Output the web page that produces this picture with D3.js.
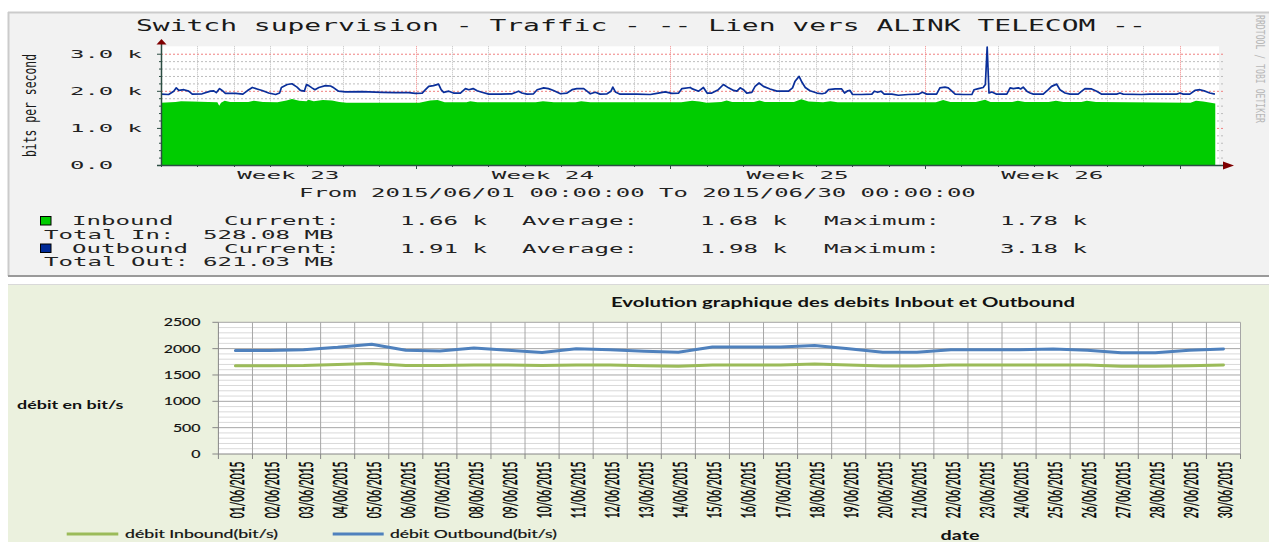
<!DOCTYPE html>
<html><head><meta charset="utf-8">
<script src="https://cdn.jsdelivr.net/npm/d3@7"></script>
<style>body{margin:0;background:#fff}svg{display:block}</style>
</head><body>
<svg id="c" width="1269" height="542"></svg>
<script>
// ---------- Top panel (RRDtool) data ----------
const rrdTitle = "Switch supervision - Traffic - -- Lien vers ALINK TELECOM --";
const rrdYTicks = [0, 1000, 2000, 3000];
const rrdYTickLabels = ["0.0", "1.0 k", "2.0 k", "3.0 k"];
const rrdWeekLabels = ["Week 23", "Week 24", "Week 25", "Week 26"];
const rrdWeekCenters = [4.5, 11.5, 18.5, 25.5];
const rrdWeekStarts = [8, 15, 22, 29];
const rrdRange = "From 2015/06/01 00:00:00 To 2015/06/30 00:00:00";
// Outbound (bits/s), day of June (fractional)
const rrdOutDay = [1.00,1.21,1.35,1.42,1.49,1.63,1.76,1.86,2.13,2.36,
2.45,2.52,2.61,2.68,2.77,3.05,3.25,3.37,3.51,3.64,
3.78,3.96,4.15,4.26,4.31,4.47,4.60,4.74,4.83,4.94,
5.00,5.06,5.15,5.23,5.34,5.52,5.66,5.75,5.88,6.07,
6.53,7.08,7.44,7.81,7.99,8.18,8.27,8.36,8.49,8.63,
8.70,8.77,8.91,9.04,9.23,9.37,9.46,9.58,9.69,9.82,
10.01,10.33,10.65,10.83,10.92,11.06,11.24,11.34,11.52,11.65,
11.79,11.98,12.16,12.30,12.43,12.62,12.71,12.80,12.94,13.07,
13.26,13.37,13.42,13.49,13.62,14.08,14.45,14.63,14.86,15.04,
15.23,15.32,15.55,15.59,15.78,15.91,16.01,16.14,16.32,16.46,
16.60,16.74,16.83,16.92,17.01,17.10,17.24,17.33,17.44,17.56,
17.74,17.93,18.25,18.36,18.43,18.54,18.62,18.71,18.84,19.03,
19.17,19.26,19.35,19.53,19.71,19.79,19.88,19.94,20.01,20.26,
20.54,20.61,20.70,20.79,20.88,21.09,21.27,21.54,21.82,21.93,
22.05,22.32,22.41,22.55,22.64,22.74,22.83,23.05,23.29,23.35,
23.47,23.60,23.66,23.71,23.76,23.84,23.97,24.25,24.34,24.43,
24.57,24.63,24.70,24.80,24.89,24.98,25.25,25.39,25.48,25.62,
25.71,25.85,25.99,26.21,26.31,26.40,26.58,26.72,26.86,27.27,
27.36,27.45,27.96,28.18,28.92,29.01,29.10,29.28,29.42,29.56,
29.70,29.83,29.97];
const rrdOutVal = [1910,1900,1990,2080,2010,2030,1990,1910,1920,1990,
2000,1950,2060,2010,1930,1930,1910,2000,2090,2050,
2010,1940,1900,1940,2090,2170,2190,2100,2010,1990,
2170,2140,2080,2030,2090,2140,2130,2080,1990,1970,
1980,1960,1950,1950,1930,1940,2030,2120,2140,2180,
2030,1960,1990,1940,1940,2060,2030,2060,2000,1960,
1910,1910,1920,1990,1940,1910,1920,2030,2080,2060,
2010,1920,1940,2030,2060,2060,1990,1920,1960,1910,
1920,1990,2100,1970,1910,1910,1900,1930,1970,1930,
1940,2060,2090,2060,1990,2090,1940,1940,2030,2170,
2080,2010,1990,2080,2030,1940,1960,2120,2210,2120,
2050,1990,1990,2080,2260,2390,2230,2090,2000,1940,
1920,1940,2030,2050,2050,1940,2000,2010,1900,1900,
1910,1990,1960,1990,1910,1910,1880,1900,1910,1960,
1910,1910,2080,2100,2080,1990,1910,1900,1900,2030,
2060,2090,2170,3180,1940,1970,1910,1910,2080,2060,
2080,2050,2100,1990,1940,1910,1910,2030,2120,2180,
2030,1940,1910,1910,1990,2060,2050,1990,1910,1910,
1940,1910,1900,1910,1910,1940,1910,1910,2010,2030,
1990,1940,1910];
// Inbound (bits/s)
const rrdInDay = [1.00,1.40,1.55,1.85,2.30,2.55,2.60,2.65,2.75,2.90,3.40,3.55,3.80,4.20,4.45,4.60,4.80,5.00,5.05,5.20,
5.45,5.70,5.90,6.10,8.10,8.40,8.60,8.80,9.40,9.50,9.70,11.30,11.50,11.80,12.40,12.55,12.80,15.30,15.60,15.80,
16.00,16.40,16.55,16.70,17.30,17.45,17.60,18.40,18.60,18.80,19.20,19.40,19.60,22.30,22.50,22.70,23.40,23.65,23.80,24.40,
24.55,24.75,25.40,25.60,25.80,26.30,26.45,26.70,29.30,29.45,29.65,29.98];
const rrdInVal = [1680,1700,1720,1710,1700,1690,1600,1680,1730,1700,1700,1730,1700,1690,1740,1780,1730,1720,1760,1720,
1750,1740,1700,1680,1680,1740,1750,1690,1690,1720,1690,1690,1720,1690,1690,1720,1690,1690,1730,1710,
1680,1700,1740,1700,1700,1740,1700,1700,1770,1710,1690,1720,1690,1690,1750,1700,1700,1760,1700,1700,
1730,1700,1700,1730,1700,1700,1730,1700,1680,1730,1710,1660];
const rrdLegendIn = ["Inbound", "Current:", "1.66 k", "Average:", "1.68 k", "Maximum:", "1.78 k"];
const rrdLegendOut = ["Outbound", "Current:", "1.91 k", "Average:", "1.98 k", "Maximum:", "3.18 k"];
const rrdTotals = [["Total In:", "528.08 MB"], ["Total Out:", "621.03 MB"]];

// ---------- Bottom panel (Excel) data ----------
const xlTitle = "Evolution graphique des debits Inbout et Outbound";
const xlDates = ["01/06/2015","02/06/2015","03/06/2015","04/06/2015","05/06/2015","06/06/2015","07/06/2015","08/06/2015","09/06/2015","10/06/2015",
"11/06/2015","12/06/2015","13/06/2015","14/06/2015","15/06/2015","16/06/2015","17/06/2015","18/06/2015","19/06/2015","20/06/2015",
"21/06/2015","22/06/2015","23/06/2015","24/06/2015","25/06/2015","26/06/2015","27/06/2015","28/06/2015","29/06/2015","30/06/2015"];
const xlInbound = [1675,1675,1680,1700,1720,1680,1680,1690,1690,1680,1690,1690,1675,1665,1690,1690,1690,1710,1690,1670,1670,1690,1690,1690,1690,1690,1665,1665,1675,1690];
const xlOutbound = [1965,1965,1980,2025,2085,1970,1955,2010,1970,1925,2000,1980,1950,1930,2030,2030,2030,2060,2000,1930,1930,1980,1980,1980,1995,1970,1920,1920,1970,1995];
const xlYTicks = [0, 500, 1000, 1500, 2000, 2500];
const xlSeriesNames = ["débit Inbound(bit/s)", "débit Outbound(bit/s)"];
const xlYTitle = "débit en bit/s";
const xlXTitle = "date";

// ---------- helpers ----------
const svg = d3.select("#c");
function txt(g, s, o) {
  const t = g.append("text").text(s)
    .attr("x", o.x || 0).attr("y", o.y || 0)
    .attr("font-family", o.ff).attr("font-size", o.fs)
    .attr("fill", o.fill || "#000");
  if (o.len) t.attr("textLength", o.len).attr("lengthAdjust", "spacingAndGlyphs");
  if (o.anchor) t.attr("text-anchor", o.anchor);
  if (o.fw) t.attr("font-weight", o.fw);
  if (o.tr) t.attr("transform", o.tr);
  if (o.sw) t.attr("stroke", o.fill || "#000").attr("stroke-width", o.sw);
  return t;
}
const MONO = "DejaVu Sans Mono";
const ADV = 14.5;

// ================= TOP PANEL =================
const gTop = svg.append("g");
gTop.append("rect").attr("x", 8).attr("y", 12).attr("width", 1262).attr("height", 264).attr("fill", "#f2f2f2");
gTop.append("line").attr("x1", 8).attr("x2", 1269).attr("y1", 12.5).attr("y2", 12.5).attr("stroke", "#cbcbcb").attr("stroke-width", 2);
gTop.append("line").attr("x1", 8.5).attr("x2", 8.5).attr("y1", 12).attr("y2", 276).attr("stroke", "#cbcbcb").attr("stroke-width", 2);
gTop.append("line").attr("x1", 8).attr("x2", 1269).attr("y1", 276).attr("y2", 276).attr("stroke", "#9a9a9a").attr("stroke-width", 2);

const xR = d3.scaleLinear().domain([1, 30]).range([161, 1216]);
const yR = d3.scaleLinear().domain([0, 3200]).range([165, 46.3]);
const pR = {l: 161, r: 1219, t: yR(3200), b: yR(0)};

gTop.append("rect").attr("x", pR.l).attr("y", pR.t).attr("width", pR.r - pR.l).attr("height", pR.b - pR.t).attr("fill", "#fff");

// grid
const minorY = d3.range(200, 3200, 200).filter(v => v % 1000 !== 0);
gTop.selectAll(".gy").data(minorY).join("line")
  .attr("x1", pR.l).attr("x2", pR.r + 4).attr("y1", d => yR(d) + 0.5).attr("y2", d => yR(d) + 0.5)
  .attr("stroke", "#bdbdbd").attr("stroke-dasharray", "2,2");
const days = d3.range(2, 30).filter(d => !rrdWeekStarts.includes(d));
gTop.selectAll(".gx").data(days).join("line")
  .attr("x1", d => Math.round(xR(d)) + 0.5).attr("x2", d => Math.round(xR(d)) + 0.5)
  .attr("y1", pR.t).attr("y2", pR.b + 2)
  .attr("stroke", "#bdbdbd").attr("stroke-dasharray", "1,1");
gTop.selectAll(".my").data(rrdYTicks.filter(v => v > 0)).join("line")
  .attr("x1", pR.l).attr("x2", pR.r + 4).attr("y1", d => yR(d) + 0.5).attr("y2", d => yR(d) + 0.5)
  .attr("stroke", "#f08080").attr("stroke-dasharray", "2,2");
gTop.selectAll(".mx").data(rrdWeekStarts).join("line")
  .attr("x1", d => Math.round(xR(d)) + 0.5).attr("x2", d => Math.round(xR(d)) + 0.5)
  .attr("y1", pR.t).attr("y2", pR.b + 3)
  .attr("stroke", "#f08080").attr("stroke-dasharray", "1,1");

// inbound area
const inData = rrdInDay.map((d, i) => ({d, v: rrdInVal[i]}));
gTop.append("path").datum(inData)
  .attr("d", d3.area().x(p => xR(p.d)).y0(yR(0)).y1(p => yR(p.v)))
  .attr("fill", "#00cc00");
// outbound line
const outData = rrdOutDay.map((d, i) => ({d, v: rrdOutVal[i]}));
gTop.append("path").datum(outData)
  .attr("d", d3.line().x(p => xR(p.d)).y(p => yR(p.v)))
  .attr("fill", "none").attr("stroke", "#0a2f9a").attr("stroke-width", 1.7).attr("stroke-linejoin", "round");

// axes
gTop.selectAll(".ty").data(d3.range(0, 3200, 200)).join("line")
  .attr("x1", d => d % 1000 === 0 ? 157 : 159).attr("x2", 161)
  .attr("y1", d => yR(d) + 0.5).attr("y2", d => yR(d) + 0.5).attr("stroke", "#2c4d43");
gTop.selectAll(".tx").data(d3.range(1, 30)).join("line")
  .attr("x1", d => Math.round(xR(d)) + 0.5).attr("x2", d => Math.round(xR(d)) + 0.5)
  .attr("y1", 165).attr("y2", d => rrdWeekStarts.includes(d) ? 169 : 167).attr("stroke", "#2c4d43");
gTop.append("line").attr("x1", 161.5).attr("x2", 161.5).attr("y1", 166).attr("y2", 44).attr("stroke", "#2c4d43").attr("stroke-width", 1.5);
gTop.append("line").attr("x1", 157).attr("x2", 1224).attr("y1", 165.5).attr("y2", 165.5).attr("stroke", "#2c4d43").attr("stroke-width", 1.5);
gTop.append("path").attr("d", "M156.5,44.5 L166.5,44.5 L161.5,39 Z").attr("fill", "#7f0000");
gTop.append("path").attr("d", "M1223,161.5 L1223,169.5 L1234,165.5 Z").attr("fill", "#7f0000");

// texts
txt(gTop, rrdTitle, {x: 136, y: 30.5, ff: MONO, fs: 15.5, len: rrdTitle.length * 16.83, fill: "#1a1a1a"});
txt(gTop, "bits per second", {ff: MONO, fs: 12, anchor: "middle", len: 103, fill: "#1a1a1a",
  tr: "translate(36,105.5) rotate(-90) scale(1,1.45)"});
rrdYTicks.forEach((v, i) => {
  const s = rrdYTickLabels[i];
  txt(gTop, s, {x: 70, y: yR(v) + 4, ff: MONO, fs: 10.5, len: s.length * 14.4, fill: "#222"});
});
rrdWeekLabels.forEach((s, i) => {
  txt(gTop, s, {x: xR(rrdWeekCenters[i]), y: 179, ff: MONO, fs: 11, anchor: "middle", len: s.length * 14.6, fill: "#222"});
});
txt(gTop, rrdRange, {x: 299, y: 196.5, ff: MONO, fs: 11.4, len: rrdRange.length * 14.4, fill: "#222"});

const legX = [72, 224, 400, 522, 700, 824, 1000];
function legRow(arr, y) {
  arr.forEach((s, i) => txt(gTop, s, {x: legX[i], y, ff: MONO, fs: 11.4, len: s.length * ADV, fill: "#222"}));
}
legRow(rrdLegendIn, 225);
legRow(rrdLegendOut, 252.5);
[238.5, 266].forEach((y, i) => {
  txt(gTop, rrdTotals[i][0], {x: 44, y, ff: MONO, fs: 11.4, len: rrdTotals[i][0].length * ADV, fill: "#222"});
  txt(gTop, rrdTotals[i][1], {x: 203, y, ff: MONO, fs: 11.4, len: rrdTotals[i][1].length * ADV, fill: "#222"});
});
gTop.append("rect").attr("x", 40.5).attr("y", 216.5).attr("width", 10.5).attr("height", 8.5).attr("fill", "#00cc00").attr("stroke", "#000");
gTop.append("rect").attr("x", 40.5).attr("y", 244).attr("width", 10.5).attr("height", 8.5).attr("fill", "#002a97").attr("stroke", "#000");
txt(gTop, "RRDTOOL / TOBI OETIKER", {ff: MONO, fs: 8.2, len: 108, fill: "#b8b8b8",
  tr: "translate(1256,15) rotate(90) scale(1,1.6)"});

// ================= BOTTOM PANEL =================
const gBot = svg.append("g");
const SANS = "Lato";
gBot.append("rect").attr("x", 8).attr("y", 284).attr("width", 1262).attr("height", 258).attr("fill", "#ebf1de");
gBot.append("line").attr("x1", 8).attr("x2", 1269).attr("y1", 284.5).attr("y2", 284.5).attr("stroke", "#d9d9d9");

const xE = d3.scaleBand().domain(xlDates).range([218.4, 1240.5]);
const yE = d3.scaleLinear().domain([0, 2500]).range([454, 322.3]);
const pE = {l: 218.4, r: 1240.5, t: yE(2500), b: yE(0)};
gBot.append("rect").attr("x", pE.l).attr("y", pE.t).attr("width", pE.r - pE.l).attr("height", pE.b - pE.t).attr("fill", "#ffffff");

gBot.selectAll(".hm").data(d3.range(100, 2600, 100).filter(v => v % 500 !== 0)).join("line")
  .attr("x1", pE.l).attr("x2", pE.r).attr("y1", d => yE(d)).attr("y2", d => yE(d))
  .attr("stroke", "#d9d9d9").attr("stroke-width", 1);
gBot.selectAll(".hM").data(xlYTicks.filter(v => v > 0)).join("line")
  .attr("x1", pE.l).attr("x2", pE.r).attr("y1", d => yE(d)).attr("y2", d => yE(d))
  .attr("stroke", "#a6a6a6").attr("stroke-width", 1);
const bounds = xlDates.map(d => xE(d)).concat([pE.r]);
gBot.selectAll(".vg").data(bounds.slice(1)).join("line")
  .attr("x1", d => d).attr("x2", d => d).attr("y1", pE.t).attr("y2", pE.b)
  .attr("stroke", "#a6a6a6");
gBot.append("line").attr("x1", pE.l).attr("x2", pE.l).attr("y1", pE.t).attr("y2", pE.b).attr("stroke", "#868686");
gBot.append("line").attr("x1", pE.l).attr("x2", pE.r).attr("y1", pE.b).attr("y2", pE.b).attr("stroke", "#868686");
gBot.selectAll(".yt").data(xlYTicks).join("line")
  .attr("x1", pE.l - 6).attr("x2", pE.l).attr("y1", d => yE(d)).attr("y2", d => yE(d)).attr("stroke", "#868686");
gBot.selectAll(".xt").data(bounds).join("line")
  .attr("x1", d => d).attr("x2", d => d).attr("y1", pE.b).attr("y2", pE.b + 5).attr("stroke", "#868686");

const cx = d => xE(d) + xE.bandwidth() / 2;
gBot.append("path").datum(xlInbound)
  .attr("d", d3.line().x((v, i) => cx(xlDates[i])).y(v => yE(v)))
  .attr("fill", "none").attr("stroke", "#9bbb59").attr("stroke-width", 3).attr("stroke-linejoin", "round").attr("stroke-linecap", "round");
gBot.append("path").datum(xlOutbound)
  .attr("d", d3.line().x((v, i) => cx(xlDates[i])).y(v => yE(v)))
  .attr("fill", "none").attr("stroke", "#4f81bd").attr("stroke-width", 3).attr("stroke-linejoin", "round").attr("stroke-linecap", "round");

xlYTicks.forEach(v => {
  const s = String(v);
  txt(gBot, s, {x: 200.5, y: yE(v) + 4, ff: SANS, fs: 11.5, anchor: "end", len: s.length * 9.2, fill: "#111", sw: 0.2});
});
xlDates.forEach(d => {
  txt(gBot, d, {ff: SANS, fs: 10.5, anchor: "end", len: 56.7, fill: "#000", sw: 0.25,
    tr: `translate(${cx(d) + 9},461.5) rotate(-90) scale(1,1.75)`});
});
txt(gBot, xlTitle, {x: 611, y: 306.5, ff: SANS, fs: 12.5, fw: "bold", len: 464, fill: "#111"});
txt(gBot, xlYTitle, {x: 17, y: 409.3, ff: SANS, fs: 12, fw: "bold", len: 106.5, fill: "#111"});
txt(gBot, xlXTitle, {x: 940.5, y: 540, ff: SANS, fs: 12.5, fw: "bold", len: 39, fill: "#111"});
gBot.append("line").attr("x1", 66.7).attr("x2", 118.3).attr("y1", 534).attr("y2", 534).attr("stroke", "#9bbb59").attr("stroke-width", 3);
txt(gBot, xlSeriesNames[0], {x: 125, y: 537.5, ff: SANS, fs: 11.5, len: 153, fill: "#111", sw: 0.2});
gBot.append("line").attr("x1", 332.7).attr("x2", 383.7).attr("y1", 534).attr("y2", 534).attr("stroke", "#4f81bd").attr("stroke-width", 3);
txt(gBot, xlSeriesNames[1], {x: 390, y: 537.5, ff: SANS, fs: 11.5, len: 167, fill: "#111", sw: 0.2});
</script></body></html>
